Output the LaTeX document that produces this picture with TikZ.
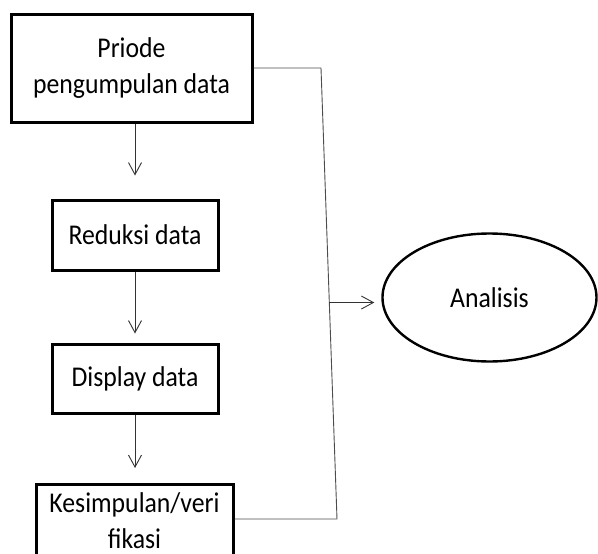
\documentclass[tikz,border=0pt]{standalone}
\usepackage{fontspec}
\setmainfont{Carlito}[FakeStretch=0.9]
\usetikzlibrary{shapes.geometric,arrows.meta,calc}

\tikzset{
  stepbox/.style={draw=black, line width=3pt, align=center, inner sep=2pt,
    font=\fontsize{28.6}{36}\selectfont},
  flow/.style={draw=black!80, line width=0.9pt,
    -{Straight Barb[length=12pt,width=13pt]}},
  link/.style={draw=black!70, line width=0.9pt}
}

\begin{document}
\begin{tikzpicture}[x=1pt,y=-1pt]
\useasboundingbox (0,0) rectangle (598,554);
\clip (0,0) rectangle (598,554);

% Steps of the flow
\node[stepbox, minimum width=241pt, minimum height=108pt] (prio) at (131.5,68)
{Priode\\pengumpulan data};
\node[stepbox, minimum width=166pt, minimum height=70pt] (reduksi) at (135,235)
{Reduksi data};
\node[stepbox, minimum width=166pt, minimum height=69pt] (display) at (135,378.5)
{Display data};
% last box runs past the bottom edge
\node[stepbox, anchor=north, minimum width=197pt, inner ysep=8pt, text depth=25pt]
(kesimpulan) at (134.5,483) {Kesimpulan/veri\\fikasi};

% Result
\node[draw=black, ellipse, line width=2.4pt, minimum width=214pt, minimum height=128pt,
  font=\fontsize{28.6}{36}\selectfont] (analisis) at (489.5,297.5) {Analisis};

% Down arrows
\draw[flow, shorten >=23pt] (reduksi.north |- prio.south) -- (reduksi.north);
\draw[flow, shorten >=9pt] (reduksi.south) -- (display.north);
\draw[flow, shorten >=15pt] (display.south) -- (display.south |- kesimpulan.north);

% Side bracket into the ellipse
\coordinate (jtop) at (321,68);
\coordinate (jbot) at (337,519);
\coordinate (jmid) at ($(jtop)!0.52!(jbot)$);
\draw[link] (prio.east) -- (jtop) -- (jbot) -- (kesimpulan.east |- jbot);
\draw[flow, shorten >=7pt] (jmid) -- (jmid -| analisis.west);

\end{tikzpicture}
\end{document}
